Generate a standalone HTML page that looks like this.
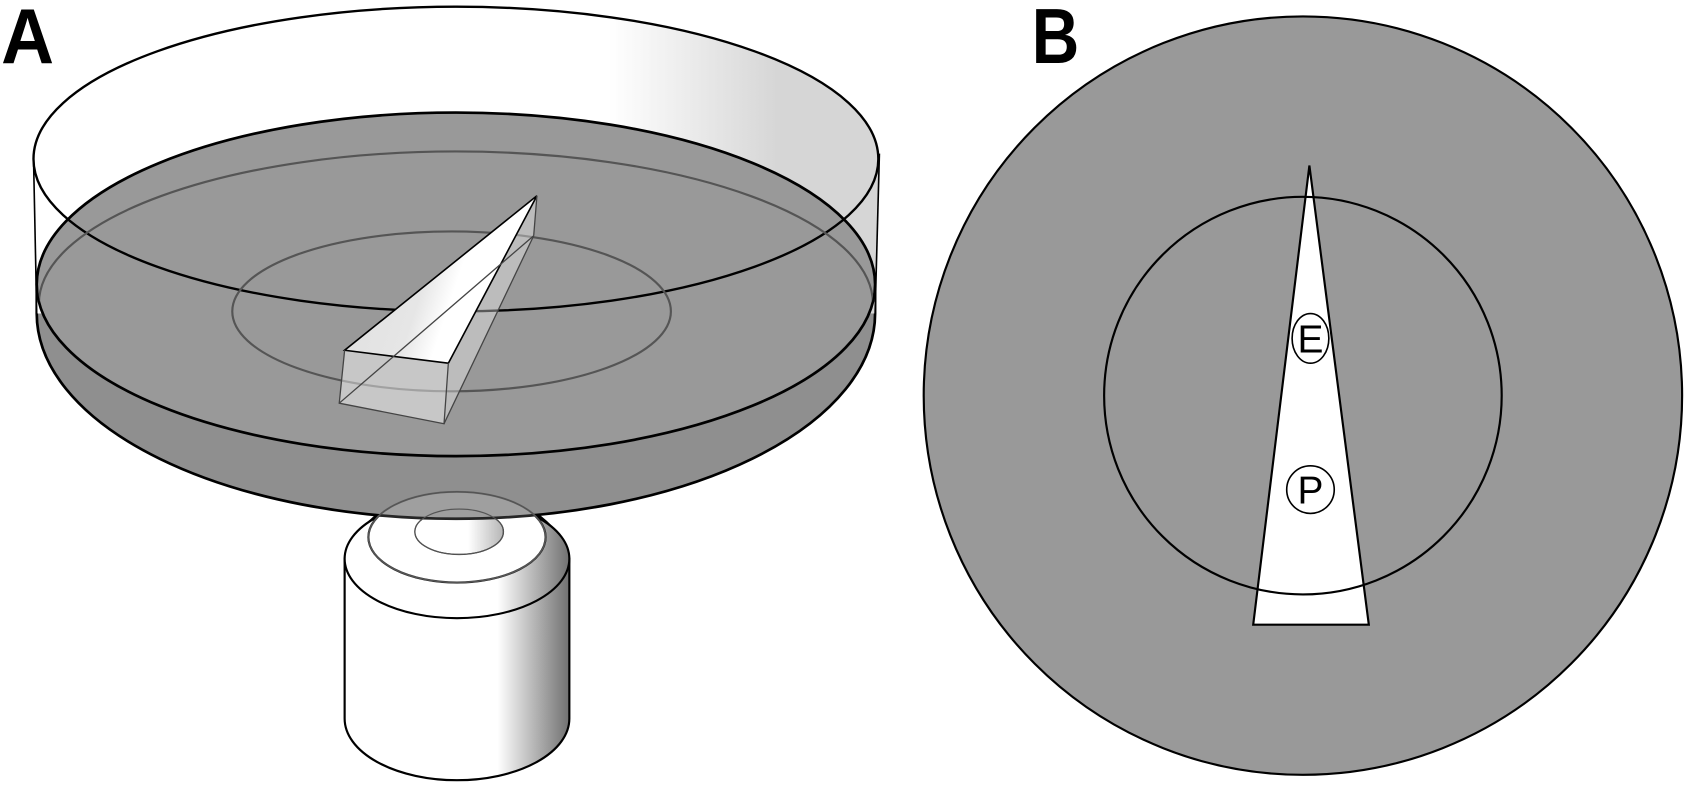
<!DOCTYPE html>
<html><head><style>html,body{margin:0;padding:0;background:#fff;width:1694px;height:788px;overflow:hidden}svg{display:block}</style></head>
<body>
<svg width="1694" height="788" viewBox="0 0 1568 729" xmlns="http://www.w3.org/2000/svg">
<defs>
<linearGradient id="rim" x1="31" y1="0" x2="814" y2="0" gradientUnits="userSpaceOnUse">
<stop offset="0" stop-color="#fff"/><stop offset="0.68" stop-color="#fff"/><stop offset="0.88" stop-color="#d6d6d6"/><stop offset="1" stop-color="#d6d6d6"/>
</linearGradient>
<linearGradient id="body" x1="319" y1="0" x2="527" y2="0" gradientUnits="userSpaceOnUse">
<stop offset="0" stop-color="#fff"/><stop offset="0.68" stop-color="#fff"/><stop offset="1" stop-color="#707070"/>
</linearGradient>
<linearGradient id="small" x1="384" y1="0" x2="466" y2="0" gradientUnits="userSpaceOnUse">
<stop offset="0" stop-color="#fff"/><stop offset="0.6" stop-color="#fff"/><stop offset="1" stop-color="#aaa"/>
</linearGradient>
<linearGradient id="wtop" x1="330" y1="300" x2="420" y2="330" gradientUnits="userSpaceOnUse">
<stop offset="0" stop-color="#e2e2e2"/><stop offset="0.5" stop-color="#e6e6e6"/><stop offset="0.8" stop-color="#fff"/><stop offset="1" stop-color="#fff"/>
</linearGradient>
<clipPath id="liq"><ellipse cx="422" cy="263" rx="387" ry="157"/></clipPath>
</defs>
<!-- objective -->
<path d="M319,517 L319,665 A104,57 0 0 0 527,665 L527,517 Z" fill="url(#body)" stroke="#000" stroke-width="2"/>
<path d="M321,517 Q324,498 347,478 L500,478 Q525,498 525,517 Z" fill="url(#body)" stroke="#000" stroke-width="2"/>
<ellipse cx="423" cy="517" rx="104" ry="55" fill="url(#body)" stroke="#000" stroke-width="2"/>
<ellipse cx="423" cy="497" rx="82" ry="42" fill="#fff" stroke="#000" stroke-width="2"/>
<ellipse cx="425" cy="492" rx="41" ry="21" fill="url(#small)" stroke="#000" stroke-width="1.2"/>
<!-- dish body -->
<path d="M34,252 L34,290 A388,190 0 0 0 810,290 L810,252 Z" fill="#858585" fill-opacity="0.92" stroke="#000" stroke-width="2.5"/>
<!-- rim -->
<path d="M31,145 L34,290 L810,290 L814,142 Z" fill="url(#rim)"/>
<ellipse cx="422" cy="147" rx="391" ry="141" fill="url(#rim)"/>
<!-- liquid -->
<ellipse cx="422" cy="263" rx="388" ry="159" fill="#999" stroke="#000" stroke-width="2.5"/>
<ellipse cx="422" cy="147" rx="391" ry="141" fill="none" stroke="#000" stroke-width="2.2"/>
<line x1="31" y1="145" x2="34" y2="290" stroke="#000" stroke-width="1.5"/>
<line x1="814" y1="142" x2="810" y2="290" stroke="#000" stroke-width="1.5"/>
<ellipse cx="422" cy="281" rx="386" ry="141" fill="none" stroke="#555" stroke-width="2" clip-path="url(#liq)"/>
<ellipse cx="418" cy="288" rx="203" ry="74" fill="none" stroke="#555" stroke-width="2"/>
<!-- objective ghost over dish -->
<ellipse cx="423" cy="497" rx="82" ry="42" fill="#fff" fill-opacity="0.15" stroke="#555" stroke-width="1.5"/>
<ellipse cx="425" cy="492" rx="41" ry="21" fill="none" stroke="#555" stroke-width="1"/>
<!-- wedge -->
<polygon points="319,324 415,336 411,392 314,373" fill="#fff" fill-opacity="0.45"/>
<polygon points="415,336 497,181 494,218 411,392" fill="#fff" fill-opacity="0.35"/>
<polygon points="319,324 497,181 415,336" fill="url(#wtop)"/>
<g stroke="#000" stroke-width="1.5" fill="none">
<polyline points="415,336 319,324 497,181 415,336"/>
</g>
<g stroke="#444" stroke-width="1.2" fill="none">
<polyline points="319,324 314,373 411,392 415,336"/>
<line x1="314" y1="373" x2="494" y2="218"/>
<line x1="411" y1="392" x2="494" y2="218"/>
<line x1="497" y1="181" x2="494" y2="218"/>
</g>
<!-- labels -->
<text x="1" y="58" font-family="Liberation Sans, sans-serif" font-size="72" font-weight="bold" fill="#000" textLength="49" lengthAdjust="spacingAndGlyphs">A</text>
<text x="955" y="58" font-family="Liberation Sans, sans-serif" font-size="72" font-weight="bold" fill="#000" textLength="44" lengthAdjust="spacingAndGlyphs">B</text>
<circle cx="1206" cy="366" r="351" fill="#999" stroke="#000" stroke-width="2"/>
<polygon points="1212,153 1160,578 1267,578" fill="#fff" stroke="#000" stroke-width="2"/>
<circle cx="1206" cy="366" r="184" fill="none" stroke="#000" stroke-width="2"/>
<ellipse cx="1213" cy="313" rx="17" ry="23" fill="#fff" stroke="#000" stroke-width="1.5"/>
<text x="1213" y="326" text-anchor="middle" font-family="Liberation Sans, sans-serif" font-size="36" fill="#000">E</text>
<circle cx="1213" cy="453" r="22" fill="#fff" stroke="#000" stroke-width="1.5"/>
<text x="1213" y="466" text-anchor="middle" font-family="Liberation Sans, sans-serif" font-size="36" fill="#000">P</text>
</svg>
</body></html>
